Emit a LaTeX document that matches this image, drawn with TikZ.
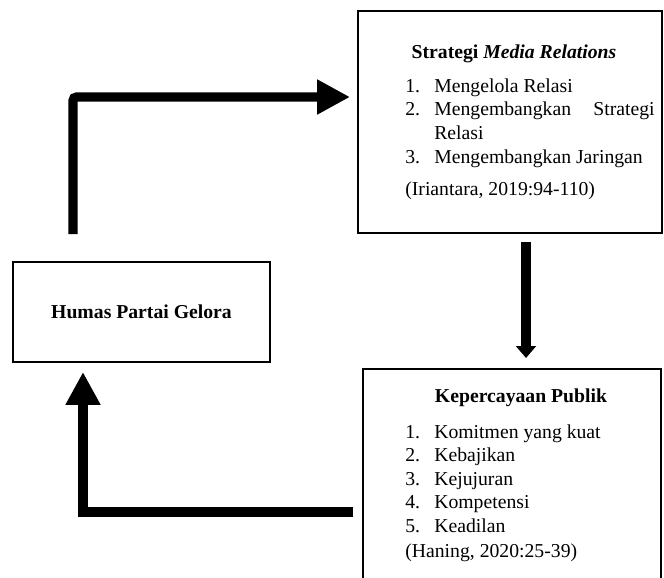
\documentclass[tikz,border=0pt]{standalone}
\usepackage{fontspec}
\setmainfont{Liberation Serif}
\usepackage{tikz}
\usetikzlibrary{positioning, arrows.meta}

\tikzset{
    box/.style={draw, line width=1.1pt, inner sep=0pt},
    txt/.style={anchor=base west, inner sep=0pt, font=\fontsize{12pt}{14.6pt}\selectfont},
    head/.style={anchor=base, inner sep=0pt, font=\fontsize{12pt}{14.6pt}\selectfont\bfseries},
    flow/.style={line width=5.5pt, -{Triangle[width=20pt, length=20pt]}}
}

\begin{document}
\begin{tikzpicture}[x=0.609pt, y=-0.609pt]
    \useasboundingbox (0,0) rectangle (664,577);
    % the three blocks
    \node (humas) [box, minimum width=156.5pt, minimum height=60.9pt] at (141.5,312) {};
    \node (strategi) [box, minimum width=185.1pt, minimum height=135.2pt] at (510,122) {};
    \node (publik) [box, minimum width=181.5pt, minimum height=140pt] at (512,484) {};
    \node at (humas.center) [head, anchor=center] {Humas Partai Gelora};
    % Strategi Media Relations
    \node at (514,58) [head] {Strategi \textit{Media Relations}};
    \node at (405,92) [txt] {1.};
    \node at (434,92) [txt] {Mengelola Relasi};
    \node at (405,115.5) [txt] {2.};
    \node at (434,115.5) [txt] {Mengembangkan};
    \node at (655,115.5) [txt, anchor=base east] {Strategi};
    \node at (434,139) [txt] {Relasi};
    \node at (405,163) [txt] {3.};
    \node at (434,163) [txt] {Mengembangkan Jaringan};
    \node at (405,195.5) [txt] {(Iriantara, 2019:94-110)};
    % Kepercayaan Publik
    \node at (521,402) [head] {Kepercayaan Publik};
    \node at (405,438) [txt] {1.};
    \node at (434,438) [txt] {Komitmen yang kuat};
    \node at (405,461.5) [txt] {2.};
    \node at (434,461.5) [txt] {Kebajikan};
    \node at (405,485) [txt] {3.};
    \node at (434,485) [txt] {Kejujuran};
    \node at (405,508.5) [txt] {4.};
    \node at (434,508.5) [txt] {Kompetensi};
    \node at (405,532) [txt] {5.};
    \node at (434,532) [txt] {Keadilan};
    \node at (405,557) [txt] {(Haning, 2020:25-39)};
    % arrows between the blocks
    \coordinate (up1) at (73,234);
    \coordinate (up1end) at (350,97);
    \coordinate (down1) at (526,242);
    \coordinate (down1end) at (526,358);
    \coordinate (back1) at (353,512);
    \coordinate (back1end) at (83,372);
    \draw [flow, rounded corners=2pt] (up1) |- (up1end);
    \draw [line width=6pt, -{Triangle[width=12pt, length=7.3pt]}] (down1) -- (down1end);
    \draw [flow, line cap=butt] (back1) -| (back1end);
\end{tikzpicture}
\end{document}
